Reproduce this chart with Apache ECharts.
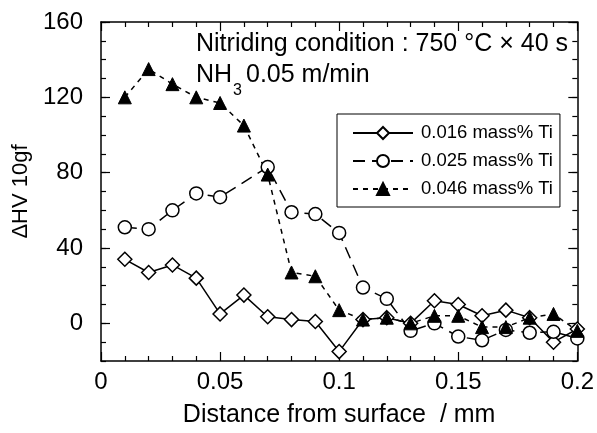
<!DOCTYPE html>
<html>
<head>
<meta charset="utf-8">
<script src="https://cdn.jsdelivr.net/npm/echarts@6/dist/echarts.min.js"></script>
<style>
  html, body { margin: 0; padding: 0; background: #fff; }
  #chart { width: 597px; height: 433px; }
</style>
</head>
<body>
<div id="chart"></div>
<script>
// distance from surface (mm)
const xAll = [0.01, 0.02, 0.03, 0.04, 0.05, 0.06, 0.07, 0.08, 0.09, 0.10,
              0.11, 0.12, 0.13, 0.14, 0.15, 0.16, 0.17, 0.18, 0.19, 0.20];
// 0.025 series has no point at 0.06
const x025 = [0.01, 0.02, 0.03, 0.04, 0.05, 0.07, 0.08, 0.09, 0.10,
              0.11, 0.12, 0.13, 0.14, 0.15, 0.16, 0.17, 0.18, 0.19, 0.20];

const hv016 = [34, 27, 31, 24, 5, 15, 3.5, 2, 1, -15, 2, 3, 0, 12, 10, 4, 7, 3, -10, -3];
const hv025 = [51, 50, 60, 69, 67, 83, 59, 58, 48, 19, 13, -4, 0, -7, -9, -3.5, -5, -4.5, -8];
const hv046 = [120, 135, 127, 120, 117, 105, 79, 27, 25, 7, 2, 3, 0, 4, 4, -2, -2, 3, 5, -4];

const yLabelValues = [0, 40, 80, 120, 160];
const seriesNames = ['0.016 mass% Ti', '0.025 mass% Ti', '0.046 mass% Ti'];

const FONT = '"Liberation Sans", Arial, sans-serif';
const pairs = (xs, ys) => xs.map((x, i) => [x, ys[i]]);

const chart = echarts.init(document.getElementById('chart'));

const axisLine = { show: true, onZero: false, lineStyle: { color: '#000', width: 1.5 } };
const shortTick = { show: true, inside: true, length: 5, lineStyle: { color: '#000', width: 1.2 } };
const longTick = { show: true, inside: true, length: 9, lineStyle: { color: '#000', width: 1.2 } };

function xAxisOf(pos, withLabels) {
    return {
        type: 'value', position: pos, min: 0, max: 0.2, interval: 0.05,
        axisLine: axisLine,
        axisTick: longTick,
        minorTick: { show: true, splitNumber: 5, length: 5, lineStyle: { color: '#000', width: 1.2 } },
        splitLine: { show: false },
        axisLabel: withLabels ? {
            show: true, color: '#000', fontSize: 24, fontFamily: FONT, margin: 9,
            formatter: v => v === 0 ? '0' : String(+v.toFixed(2))
        } : { show: false },
        name: withLabels ? 'Distance from surface  / mm' : '',
        nameLocation: 'middle', nameGap: 42,
        nameTextStyle: { color: '#000', fontSize: 25, fontFamily: FONT }
    };
}

function yAxisOf(pos, major, withLabels) {
    const ax = {
        type: 'value', position: pos, min: -20, max: 160, interval: 10,
        splitLine: { show: false },
        axisLine: major ? { show: false, onZero: false } : axisLine,
        axisTick: major ? Object.assign({ customValues: yLabelValues }, longTick) : shortTick,
        axisLabel: { show: false }
    };
    if (withLabels) {
        ax.axisLabel = { show: true, customValues: yLabelValues, color: '#000', fontSize: 24, fontFamily: FONT, margin: 18 };
        ax.name = 'ΔHV 10gf';
        ax.nameLocation = 'middle';
        ax.nameGap = 56;
        ax.nameTextStyle = { color: '#000', fontSize: 22, fontFamily: FONT };
    }
    return ax;
}

const option = {
    backgroundColor: '#fff',
    animation: false,
    grid: { left: 101, right: 16, top: 22, bottom: 69 },
    xAxis: [xAxisOf('bottom', true), xAxisOf('top', false)],
    yAxis: [yAxisOf('left', false, false), yAxisOf('left', true, true),
            yAxisOf('right', false, false), yAxisOf('right', true, false)],
    legend: {
        orient: 'vertical', left: 337, top: 114,
        itemWidth: 60, itemHeight: 15, itemGap: 6,
        padding: [8, 7, 7, 15],
        borderColor: '#000', borderWidth: 1,
        backgroundColor: '#fff',
        textStyle: { color: '#000', fontSize: 18.5, fontFamily: FONT, lineHeight: 22, padding: [0, 0, 0, 3] },
        data: seriesNames
    },
    graphic: [
        { type: 'text', x: 196, y: 44, style: { text: 'Nitriding condition : 750 °C × 40 s', fontSize: 25, fontFamily: FONT, fill: '#000', verticalAlign: 'middle' } },
        { type: 'text', x: 196, y: 75, style: { text: 'NH', fontSize: 25, fontFamily: FONT, fill: '#000', verticalAlign: 'middle' } },
        { type: 'text', x: 233, y: 91, style: { text: '3', fontSize: 16, fontFamily: FONT, fill: '#000', verticalAlign: 'middle' } },
        { type: 'text', x: 246, y: 75, style: { text: '0.05 m/min', fontSize: 25, fontFamily: FONT, fill: '#000', verticalAlign: 'middle' } }
    ],
    series: [
        {
            name: seriesNames[0], type: 'line', data: pairs(xAll, hv016),
            symbol: 'diamond', symbolSize: 14, showAllSymbol: true,
            lineStyle: { color: '#000', width: 1.5, type: 'solid' },
            itemStyle: { color: '#fff', borderColor: '#000', borderWidth: 1.5 }
        },
        {
            name: seriesNames[1], type: 'line', data: pairs(x025, hv025),
            symbol: 'circle', symbolSize: 13, showAllSymbol: true,
            lineStyle: { color: '#000', width: 1.5, type: [12, 7] },
            itemStyle: { color: '#fff', borderColor: '#000', borderWidth: 1.5 }
        },
        {
            name: seriesNames[2], type: 'line', data: pairs(xAll, hv046),
            symbol: 'triangle', symbolSize: 13, showAllSymbol: true,
            lineStyle: { color: '#000', width: 1.5, type: [5, 5] },
            itemStyle: { color: '#000', borderColor: '#000', borderWidth: 1 }
        }
    ]
};

chart.setOption(option);
</script>
</body>
</html>
